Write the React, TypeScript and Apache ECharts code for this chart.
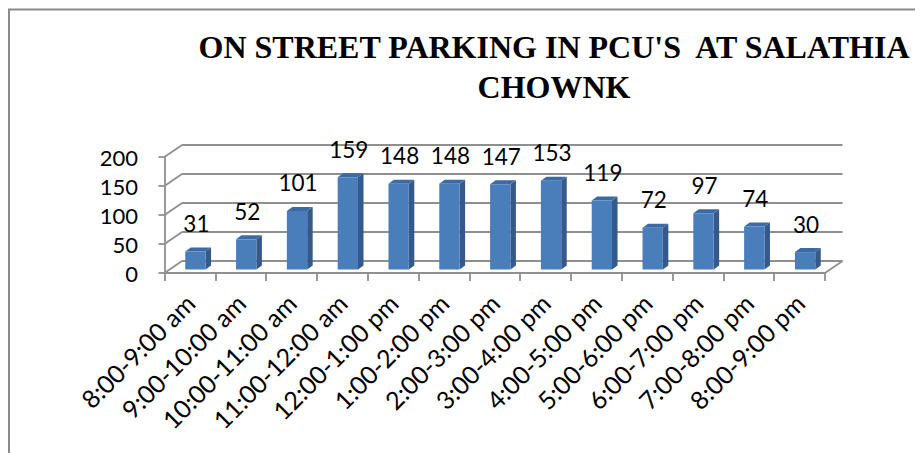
import React, { useEffect, useRef } from "react";
import * as echarts from "echarts";

const categories = [
  "8:00-9:00 am",
  "9:00-10:00 am",
  "10:00-11:00 am",
  "11:00-12:00 am",
  "12:00-1:00 pm",
  "1:00-2:00 pm",
  "2:00-3:00 pm",
  "3:00-4:00 pm",
  "4:00-5:00 pm",
  "5:00-6:00 pm",
  "6:00-7:00 pm",
  "7:00-8:00 pm",
  "8:00-9:00 pm",
];
const pcuValues = [31, 52, 101, 159, 148, 148, 147, 153, 119, 72, 97, 74, 30];
const yTicks = [0, 50, 100, 150, 200];
const titleText = "ON STREET PARKING IN PCU'S  AT SALATHIA\nCHOWNK";

const LABEL_FONT = "Lato";
const GRID_COLOR = "#8f8f8f";
// 3D depth of the wall (px) and of the bars
const DX = 17.5;
const DY = -12;
const FX = 5.5;
const FY = -3.5;
const BDX = 5.5;
const BDY = -4;

export default function App() {
  const ref = useRef<HTMLDivElement>(null);
  useEffect(() => {
    if (!ref.current) return;
    const chart = echarts.init(ref.current, undefined, { renderer: "svg" });
    chart.setOption({
      animation: false,
      backgroundColor: "#ffffff",
      title: {
        text: titleText,
        left: 546,
        top: 19,
        padding: 0,
        textAlign: "center",
        textStyle: {
          fontFamily: "Liberation Serif",
          fontWeight: "bold",
          fontSize: 32,
          lineHeight: 40,
          color: "#000",
        },
      },
      graphic: [
        {
          type: "polyline",
          silent: true,
          shape: { points: [[1, 445], [1, 1.5], [915, 1.5]] },
          style: { stroke: "#8a8a8a", lineWidth: 2, fill: "none" },
        },
      ],
      grid: { left: 156.5, right: 98, top: 149, bottom: 180 },
      xAxis: {
        type: "category",
        data: categories,
        boundaryGap: true,
        axisLine: { show: true, lineStyle: { color: GRID_COLOR, width: 1.8 } },
        axisTick: { show: true, length: 8, lineStyle: { color: GRID_COLOR, width: 1.8 } },
        axisLabel: {
          rotate: 45,
          margin: 25.5,
          interval: 0,
          fontFamily: LABEL_FONT,
          fontSize: 25,
          color: "#000",
        },
        splitLine: { show: false },
      },
      yAxis: {
        type: "value",
        min: 0,
        max: 200,
        interval: 50,
        axisLine: { show: true, lineStyle: { color: GRID_COLOR, width: 1.8 } },
        axisTick: { show: true, length: 6, lineStyle: { color: GRID_COLOR, width: 1.8 } },
        axisLabel: {
          margin: 26.5,
          fontFamily: LABEL_FONT,
          fontSize: 22,
          color: "#000",
        },
        splitLine: { show: false },
      },
      series: [
        {
          type: "custom",
          name: "walls",
          silent: true,
          z: 1,
          data: yTicks.map((v) => [0, v]),
          encode: { x: 0, y: 1 },
          renderItem: (params: any, api: any) => {
            const cs = params.coordSys;
            const v = api.value(1);
            const y = api.coord([0, v])[1];
            const x0 = cs.x;
            const x1 = cs.x + cs.width;
            const style = { stroke: GRID_COLOR, lineWidth: 1.8 };
            const children: any[] = [
              { type: "line", shape: { x1: x0, y1: y, x2: x0 + DX, y2: y + DY }, style },
              { type: "line", shape: { x1: x0 + DX, y1: y + DY, x2: x1 + DX, y2: y + DY }, style },
            ];
            if (v === 0) {
              children.push({
                type: "line",
                shape: { x1: x1, y1: y, x2: x1 + DX, y2: y + DY },
                style,
              });
            }
            return { type: "group", children };
          },
        },
        {
          type: "custom",
          name: "PCU",
          z: 2,
          data: pcuValues.map((v, i) => [i, v]),
          encode: { x: 0, y: 1 },
          renderItem: (params: any, api: any) => {
            const i = api.value(0);
            const v = api.value(1);
            const base = api.coord([i, 0]);
            const top = api.coord([i, v]);
            const band = api.size([1, 0])[0];
            const w = band * 0.4;
            const left = base[0] - w / 2 + FX;
            const yt = top[1] + FY;
            const yb = base[1] + FY;
            return {
              type: "group",
              children: [
                {
                  type: "polygon",
                  shape: {
                    points: [
                      [left + w, yt],
                      [left + w + BDX, yt + BDY],
                      [left + w + BDX, yb + BDY],
                      [left + w, yb],
                    ],
                  },
                  style: { fill: "#34598A" },
                },
                {
                  type: "polygon",
                  shape: {
                    points: [
                      [left, yt],
                      [left + BDX, yt + BDY],
                      [left + w + BDX, yt + BDY],
                      [left + w, yt],
                    ],
                  },
                  style: { fill: "#3E6AA3" },
                },
                {
                  type: "rect",
                  shape: { x: left, y: yt, width: w, height: yb - yt },
                  style: { fill: "#4A7EBB" },
                },
                {
                  type: "text",
                  x: left + w / 2 + 1,
                  y: yt + BDY - 24,
                  style: {
                    text: String(v),
                    fontFamily: LABEL_FONT,
                    fontSize: 22.5,
                    fill: "#000",
                    align: "center",
                    verticalAlign: "middle",
                  },
                },
              ],
            };
          },
        },
      ],
    });
    return () => chart.dispose();
  }, []);
  return <div ref={ref} style={{ width: 915, height: 445 }} />;
}
